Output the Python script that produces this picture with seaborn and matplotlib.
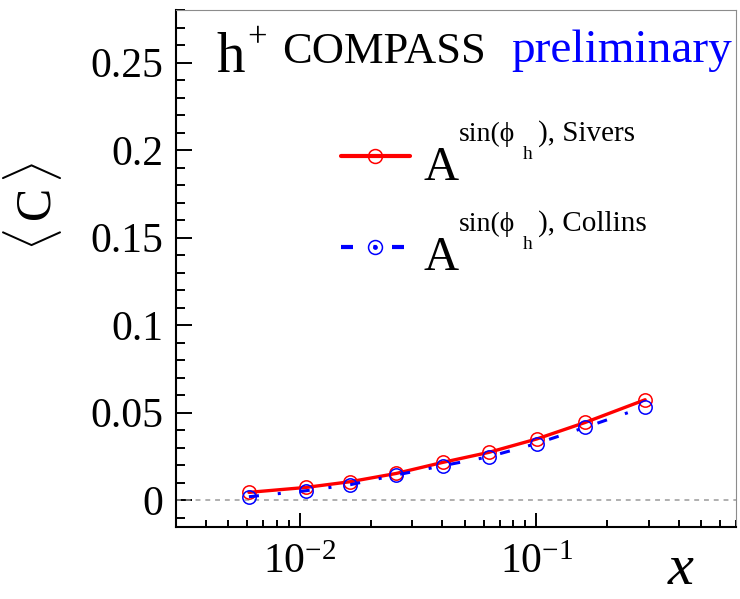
import matplotlib
matplotlib.use("Agg")
import matplotlib.pyplot as plt
import matplotlib.transforms as mtransforms
from matplotlib.lines import Line2D
from matplotlib.legend_handler import HandlerTuple
from matplotlib.ticker import FixedLocator, FixedFormatter, NullFormatter, LogLocator, MultipleLocator
import numpy as np
import seaborn as sns

# mean x of each bin
x_mean = [0.0061, 0.0106, 0.0164, 0.0256, 0.0402, 0.0629, 0.1006, 0.161, 0.289]
# <C> for the Sivers and Collins weighted terms
c_sivers = [0.0045, 0.0073, 0.0106, 0.0153, 0.0216, 0.0273, 0.0350, 0.0444, 0.0574]
c_collins = [0.0020, 0.0054, 0.0089, 0.0144, 0.0197, 0.0248, 0.0324, 0.0416, 0.0534]

y_ticks = [0.0, 0.05, 0.10, 0.15, 0.20, 0.25]
y_tick_labels = ["0", "0.05", "0.1", "0.15", "0.2", "0.25"]
x_ticks = [1e-2, 1e-1]
x_tick_labels = [r"$10^{-2}$", r"$10^{-1}$"]

sns.set_style("white")
plt.rcParams["font.family"] = ["Liberation Serif", "DejaVu Serif"]
plt.rcParams["mathtext.fontset"] = "custom"
plt.rcParams["mathtext.rm"] = "Liberation Serif"
plt.rcParams["mathtext.it"] = "Liberation Serif:italic"
plt.rcParams["mathtext.bf"] = "Liberation Serif:bold"
plt.rcParams["text.color"] = "black"
plt.rcParams["axes.labelcolor"] = "black"
plt.rcParams["xtick.color"] = "black"
plt.rcParams["ytick.color"] = "black"

RED = "#ff0000"
BLUE = "#0000ff"

fig = plt.figure(figsize=(7.4, 5.99), dpi=100)
ax = fig.add_axes([176 / 740, 72.5 / 599, 560 / 740, 516.5 / 599])
# pixel transform (origin top-left) for placing annotations
px = mtransforms.Affine2D().scale(1 / 740, -1 / 599).translate(0, 1) + fig.transFigure

ax.set_xscale("log")
ax.set_xlim(0.003, 0.7)
ax.set_ylim(-0.015, 0.28)

ax.axhline(0, color="#9a9a9a", lw=1.1, ls=(0, (3.2, 3.2)), zorder=1)

collins_ls = (0, (3.3, 6.2, 1.0, 6.2))
sns.lineplot(x=x_mean, y=c_sivers, ax=ax, color=RED, lw=2.4, marker="o",
             markersize=9.6, markerfacecolor="none", markeredgecolor=RED,
             markeredgewidth=1.1, zorder=3, legend=False)
sns.lineplot(x=x_mean, y=c_collins, ax=ax, color=BLUE, lw=2.2, linestyle=collins_ls,
             marker="o", markersize=9.6, markerfacecolor="none", markeredgecolor=BLUE,
             markeredgewidth=1.1, zorder=4, legend=False)

# axes, ticks
ax.xaxis.set_major_locator(FixedLocator(x_ticks))
ax.xaxis.set_major_formatter(FixedFormatter(x_tick_labels))
ax.xaxis.set_minor_locator(LogLocator(base=10, subs=np.arange(2, 10), numticks=20))
ax.xaxis.set_minor_formatter(NullFormatter())
ax.yaxis.set_major_locator(FixedLocator(y_ticks))
ax.yaxis.set_major_formatter(FixedFormatter(y_tick_labels))
ax.yaxis.set_minor_locator(MultipleLocator(0.01))

ax.tick_params(axis="both", which="both", direction="in", top=False, right=False,
               bottom=True, left=True, width=1.4, color="black", labelcolor="black")
ax.tick_params(axis="y", which="major", length=11.5, pad=9, labelsize=30)
ax.tick_params(axis="y", which="minor", length=6.5)
ax.tick_params(axis="x", which="major", length=10, pad=12, labelsize=30)
ax.tick_params(axis="x", which="minor", length=5)

for side in ("left", "bottom"):
    ax.spines[side].set_color("black")
    ax.spines[side].set_linewidth(1.5)
for side in ("top", "right"):
    ax.spines[side].set_color("#8c8c8c")
    ax.spines[side].set_linewidth(0.8)
ax.grid(False)

ax.set_xlabel("x", fontsize=42, fontstyle="italic", ha="left", va="baseline")
ax.xaxis.set_label_coords((668 - 176) / 560, (526.5 - 584) / 516.5)
ax.set_ylabel(r"$\langle\,\mathrm{C}\,\rangle$", fontsize=36, ha="center", va="center")
ax.yaxis.set_label_coords((33 - 176) / 560, (526.5 - 206) / 516.5)

# header
fig.text(216.7, 71.7, "h", fontsize=41, transform=px, ha="left", va="baseline")
fig.text(247, 47, "+", fontsize=25, transform=px, ha="left", va="baseline")
fig.text(281.7, 63.3, "COMPASS", fontsize=32, transform=px, ha="left", va="baseline")
fig.text(511.7, 61.7, "preliminary", fontsize=34, color=BLUE, transform=px,
         ha="left", va="baseline")

# legend
h_siv = Line2D([], [], color=RED, lw=3.0, marker="o", markersize=10,
               markerfacecolor="none", markeredgecolor=RED, markeredgewidth=1.1)
h_col = Line2D([], [], color=BLUE, lw=3.0, linestyle=(0, (2.88, 4.92, 0.72, 3.72)),
               marker="o", markersize=10, markerfacecolor="none",
               markeredgecolor=BLUE, markeredgewidth=1.1)
h_dot = Line2D([], [], ls="none", marker="o", markersize=2.4, color=BLUE)

leg_kw = dict(loc="center left", bbox_transform=px, frameon=False, fontsize=10,
              handlelength=69 / 13.89, handletextpad=0, borderpad=0,
              borderaxespad=0, numpoints=1)
leg1 = ax.legend([h_siv], [""], bbox_to_anchor=(340.7, 157.7), **leg_kw)
ax.add_artist(leg1)
ax.legend([(h_col, h_dot)], [""], bbox_to_anchor=(340.7, 248.3),
          handler_map={tuple: HandlerTuple(ndivide=1, pad=0)}, **leg_kw)

for base, name in ((180, "Sivers"), (270, "Collins")):
    fig.text(423, base, "A", fontsize=35, transform=px, ha="left", va="baseline")
    fig.text(459, base - 39, "sin(\u03d5", fontsize=20, transform=px,
             ha="left", va="baseline")
    fig.text(523, base - 21, "h", fontsize=14, transform=px, ha="left", va="baseline")
    fig.text(538, base - 39, "), " + name, fontsize=21, transform=px,
             ha="left", va="baseline")

fig.savefig("out.png", dpi=100)
